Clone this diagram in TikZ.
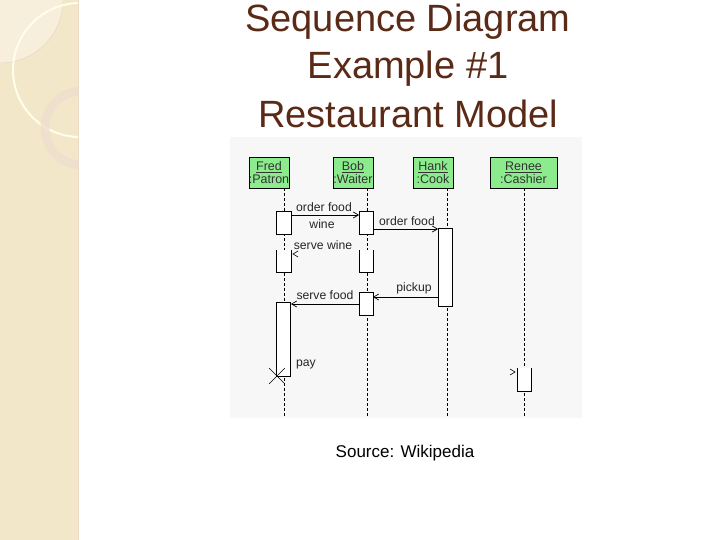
\documentclass[tikz,border=0pt]{standalone}
\usepackage{fontspec}
\setmainfont{Liberation Sans}
\usetikzlibrary{arrows.meta,calc}
\definecolor{side}{HTML}{F3E7C9}
\definecolor{ttlc}{HTML}{5A2A17}
\definecolor{hdrg}{HTML}{8CEB8C}
\begin{document}
\begin{tikzpicture}[x=1pt,y=-1pt,
  hdr/.style={draw=black,fill=hdrg,minimum width=40pt,minimum height=31pt,inner sep=0pt,align=center,font=\fontsize{12.5}{13}\selectfont,text=black!80},
  life/.style={densely dashed,line width=0.6pt},
  act/.style={draw,fill=white,line width=0.7pt},
  msg/.style={line width=0.7pt,-{Straight Barb[length=5pt,width=6pt]}},
  lbl/.style={font=\fontsize{12.2}{13}\selectfont,inner sep=0pt,text=black!85},
  ttl/.style={font=\fontsize{38}{40}\selectfont,text=ttlc,inner sep=0pt}]
\useasboundingbox (0,0) rectangle (720,540);
\fill[white] (0,0) rectangle (720,540);
% sidebar
\begin{scope}
\clip (0,0) rectangle (78,540);
\fill[side] (0,0) rectangle (78,540);
\fill[white,opacity=0.35] (0,0) circle[radius=63];
\draw[brown!35,line width=0.4pt] (0,0) circle[radius=63];
\draw[yellow!8!white,line width=2pt] (80,70) circle[radius=67];
\draw[brown!25!white,line width=9pt,opacity=0.8] (82,128) circle[radius=37];
\end{scope}
\draw[brown!30,line width=0.5pt] (78,0) -- (78,540);
% title
\node[ttl] (t1) at (408,22) {Sequence Diagram};
\node[ttl] (t2) at (408,69) {Example \#1};
\node[ttl] (t3) at (408,114) {Restaurant Model};
% diagram area
\fill[gray!6] (230,137) rectangle (582,418);
\node[hdr] (fred) at (269,172.5) {\underline{Fred}\\:Patron};
\node[hdr] (bob) at (353,172.5) {\underline{Bob}\\:Waiter};
\node[hdr] (hank) at (433,172.5) {\underline{Hank}\\:Cook};
\node[hdr,minimum width=67pt] (renee) at (523.5,172.5) {\underline{Renee}\\:Cashier};
\draw[life] (284,188) -- (284,417);
\draw[life] (367,188) -- (367,417);
\draw[life] (447,188) -- (447,417);
\draw[life] (524,188) -- (524,417);
% activations
\node[act,minimum width=15pt,minimum height=23pt,inner sep=0pt,anchor=north west] (f1) at (276,211) {};
\node[act,minimum width=14pt,minimum height=23pt,inner sep=0pt,anchor=north west] (b1) at (359,211) {};
\fill[white] (276,250) rectangle (291,272);
\draw[line width=0.7pt] (276,250) -- (276,272) -- (291,272) -- (291,250);
\fill[white] (359,250) rectangle (373,272);
\draw[line width=0.7pt] (359,250) -- (359,272) -- (373,272) -- (373,250);
\node[act,minimum width=14pt,minimum height=78pt,inner sep=0pt,anchor=north west] (h1) at (438,228) {};
\node[act,minimum width=14pt,minimum height=23pt,inner sep=0pt,anchor=north west] (b3) at (359,292) {};
\node[act,minimum width=14pt,minimum height=74pt,inner sep=0pt,anchor=north west] (f3) at (276,302) {};
\fill[white] (517,368) rectangle (531,391);
\draw[line width=0.7pt] (517,368) -- (517,391) -- (531,391) -- (531,368);
% messages
\coordinate (m1s) at (291,215); \coordinate (m1e) at (359,215);
\draw[msg] (m1s) -- (m1e);
\node[lbl] (l1) at (324,207) {order food};
\node[lbl] (l2) at (322,224) {wine};
\coordinate (m2s) at (373,229); \coordinate (m2e) at (438,229);
\draw[msg] (m2s) -- (m2e);
\node[lbl] (l3) at (407,221) {order food};
\node[lbl] (l4) at (323,245) {serve wine};
\coordinate (sw) at (293,254);
\draw[line width=0.6pt] ($(sw)+(5,-3)$) -- (sw) -- ++(5,3);
\coordinate (m3s) at (438,297); \coordinate (m3e) at (373,297);
\draw[msg] (m3s) -- (m3e);
\node[lbl] (l5) at (414,288) {pickup};
\coordinate (m4s) at (359,304); \coordinate (m4e) at (291,304);
\draw[msg] (m4s) -- (m4e);
\node[lbl] (l6) at (325,295) {serve food};
\node[lbl] (l7) at (306,364) {pay};
\coordinate (x) at (277,376);
\draw[line width=0.6pt] ($(x)+(-8,-8)$) -- ($(x)+(8,8)$) ($(x)+(-8,8)$) -- ($(x)+(8,-8)$);
\coordinate (pr) at (515,372);
\draw[line width=0.6pt] ($(pr)+(-5,-3)$) -- (pr) -- ++(-5,3);
\node[font=\fontsize{17}{19}\selectfont,inner sep=0pt] (src) at (405,453) {Source: Wikipedia};
\end{tikzpicture}
\end{document}
